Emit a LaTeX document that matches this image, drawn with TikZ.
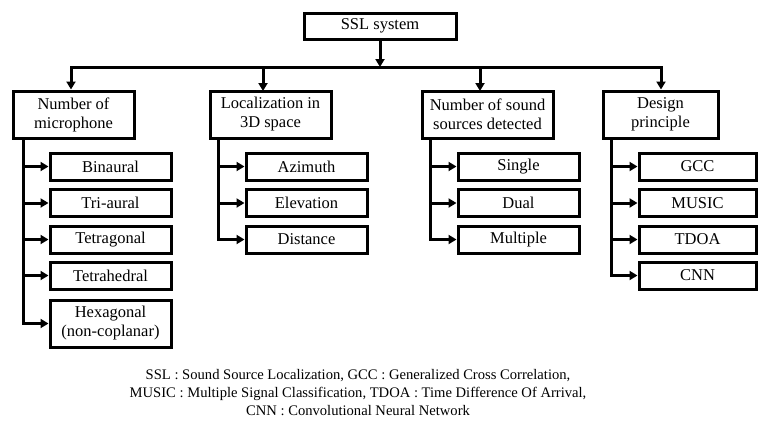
\documentclass[tikz,border=0pt]{standalone}
\usepackage{fontspec}
\setmainfont{Liberation Serif}
\usetikzlibrary{arrows.meta}

\tikzset{
  box/.style={draw, line width=3pt, rectangle, inner sep=0pt, align=center,
    font=\fontsize{16.5}{19}\selectfont},
  catbox/.style={box, minimum height=47, minimum width=121},
  subbox/.style={box, minimum height=27, minimum width=121},
  link/.style={line width=3pt, -{Triangle[length=8pt,width=9pt]}},
}

\begin{document}
\begin{tikzpicture}[x=1pt,y=-1pt]
        \useasboundingbox (0,0) rectangle (759,429);

        \node[box, minimum width=152, minimum height=26] (ssl) at (380, 26) {SSL system};

        \node[catbox] (cat1) at (73.5, 114.5) {Number of\\microphone};
        \node[catbox] (cat2) at (270.5, 114.5) {Localization in\\3D space};
        \node[catbox, minimum width=131] (cat3) at (487.5, 114.5) {Number of sound\\sources detected};
        \node[catbox, minimum width=115] (cat4) at (660.5, 114.5) {Design\\principle};

        \coordinate (bus) at (380, 67);
        \coordinate (busl) at (71, 67);
        \coordinate (busr) at (661, 67);

        \draw[link] (ssl.south) -- (bus);
        \draw[line width=3pt, line cap=rect] (busl) -- (busr);
        \draw[link] (busl) -- (busl |- cat1.north);
        \draw[link] (263, 67) -- (263, 91);
        \draw[link] (480, 67) -- (480, 91);
        \draw[link] (busr) -- (busr |- cat4.north);

        \node[subbox] (bin) at (110.5, 166.5) {Binaural};
        \node[subbox] (tri) at (110.5, 203) {Tri-aural};
        \node[subbox] (tgon) at (110.5, 239.5) {Tetragonal};
        \node[subbox] (thed) at (110.5, 275.5) {Tetrahedral};
        \node[catbox] (hex) at (110.5, 323.5) {Hexagonal\\(non-coplanar)};

        \node[subbox] (azi) at (306.5, 166.5) {Azimuth};
        \node[subbox] (ele) at (306.5, 203) {Elevation};
        \node[subbox] (dis) at (306.5, 239.5) {Distance};

        \node[subbox] (sgl) at (518.5, 166.5) {Single};
        \node[subbox] (dua) at (518.5, 203) {Dual};
        \node[subbox] (mul) at (518.5, 239.5) {Multiple};

        \node[subbox, minimum width=117] (gcc) at (697.5, 166.5) {GCC};
        \node[subbox, minimum width=117] (mus) at (697.5, 203) {MUSIC};
        \node[subbox, minimum width=117] (tdoa) at (697.5, 239.5) {TDOA};
        \node[subbox, minimum width=117] (cnn) at (697.5, 275.5) {CNN};

        % branches
        \foreach \s in {bin, tri, tgon, thed, hex}
          \draw[link] ([xshift=12]cat1.south west) |- (\s.west);
        \foreach \s in {azi, ele, dis}
          \draw[link] ([xshift=10]cat2.south west) |- (\s.west);
        \foreach \s in {sgl, dua, mul}
          \draw[link] ([xshift=10]cat3.south west) |- (\s.west);
        \foreach \s in {gcc, mus, tdoa, cnn}
          \draw[link] ([xshift=10]cat4.south west) |- (\s.west);

        \node[align=center, font=\fontsize{14.6}{18}\selectfont] (note) at (358, 393)
          {SSL : Sound Source Localization, GCC : Generalized Cross Correlation,\\
           MUSIC : Multiple Signal Classification, TDOA : Time Difference Of Arrival,\\
           CNN : Convolutional Neural Network};

\end{tikzpicture}
\end{document}
